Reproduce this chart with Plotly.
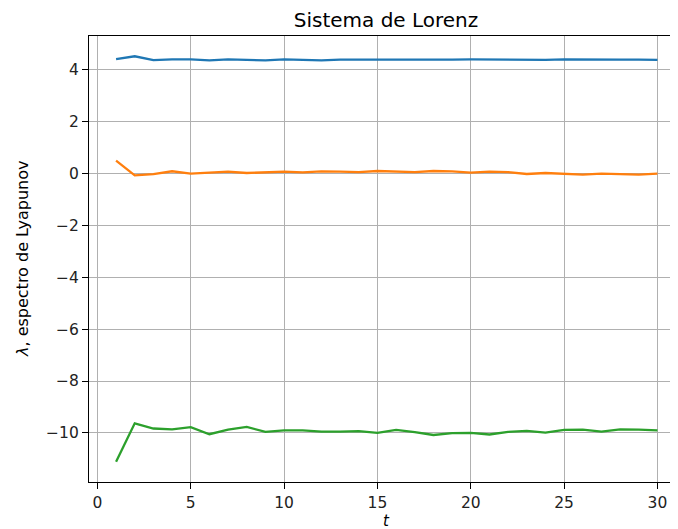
import plotly.graph_objects as go

t = list(range(1, 31))
lyap_1 = [4.40, 4.51, 4.36, 4.39, 4.39, 4.35, 4.39, 4.38, 4.35, 4.39,
          4.38, 4.35, 4.38, 4.38, 4.36, 4.38, 4.38, 4.36, 4.38, 4.39,
          4.38, 4.39, 4.38, 4.37, 4.39, 4.38, 4.38, 4.38, 4.38, 4.37]
lyap_2 = [0.49, -0.08, -0.03, 0.08, -0.01, 0.03, 0.065, 0.013, 0.05, 0.065,
          0.04, 0.077, 0.065, 0.05, 0.09, 0.077, 0.05, 0.09, 0.077, 0.026,
          0.065, 0.05, -0.026, 0.013, -0.013, -0.05, -0.013, -0.04, -0.05, -0.013]
lyap_3 = [-11.11, -9.63, -9.83, -9.86, -9.78, -10.05, -9.87, -9.77, -9.96, -9.90,
          -9.90, -9.95, -9.95, -9.93, -10.00, -9.88, -9.97, -10.08, -10.01, -10.00,
          -10.06, -9.96, -9.92, -9.99, -9.88, -9.87, -9.95, -9.86, -9.87, -9.90]

x_ticks = [0, 5, 10, 15, 20, 25, 30]
y_ticks = [-10, -8, -6, -4, -2, 0, 2, 4]

series = [(lyap_1, "#1f77b4"), (lyap_2, "#ff7f0e"), (lyap_3, "#2ca02c")]

fig = go.Figure()
for vals, col in series:
    fig.add_trace(go.Scatter(x=t, y=vals, mode="lines",
                             line=dict(color=col, width=2.3), showlegend=False))

# page body has an 8px margin; figure sized to fill the rest of the window
OFF = 8
W, H = 678 - OFF, 529 - OFF
L, R, T, B = 89 - OFF, 0, 36 - OFF, 529 - 482
font = "DejaVu Sans"

axis_common = dict(showgrid=True, gridcolor="#b0b0b0", gridwidth=1.2,
                   zeroline=False, showline=True, linecolor="black", linewidth=1.2,
                   ticks="outside", ticklen=6, tickwidth=1.2, tickcolor="black",
                   tickfont=dict(family=font, size=15.5, color="#222"))

fig.update_layout(
    width=W, height=H,
    margin=dict(l=L, r=R, t=T, b=B, pad=0),
    paper_bgcolor="white", plot_bgcolor="white",
    font=dict(family=font, color="black"),
    title=dict(text="Sistema de Lorenz", font=dict(family=font, size=20, color="black"),
               xref="container", x=(386 - OFF) / W, xanchor="center",
               yref="container", y=1 - (20 - OFF) / H, yanchor="middle"),
    xaxis=dict(range=[-0.45, 31.1], tickvals=x_ticks, mirror=True, **axis_common),
    yaxis=dict(range=[-11.89, 5.29], tickvals=y_ticks, mirror=False, **axis_common),
)

plot_w = W - L - R
plot_h = H - T - B
fig.add_annotation(text="<i>λ</i>, espectro de Lyapunov", xref="paper", yref="paper",
                   x=(22 - 89) / plot_w, y=0.5, textangle=-90, showarrow=False,
                   xanchor="center", yanchor="middle",
                   font=dict(family=font, size=16, color="black"))
fig.add_annotation(text="<i>t</i>", xref="paper", yref="paper",
                   x=(386 - 89) / plot_w, y=-B / plot_h, showarrow=False,
                   xanchor="center", yanchor="bottom", height=15, valign="middle",
                   borderpad=0,
                   font=dict(family=font, size=15, color="black"))

fig.write_html("out.html")
